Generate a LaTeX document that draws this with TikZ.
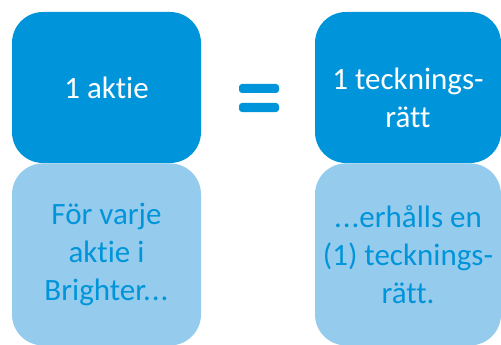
\documentclass[tikz,border=0pt]{standalone}
\usepackage{fontspec}
\setmainfont{Carlito}[RawFeature={-liga;-clig}]
\usetikzlibrary{positioning}
\definecolor{darkblue}{RGB}{0,149,218}
\definecolor{lightblue}{RGB}{149,203,236}

\begin{document}
\begin{tikzpicture}[x=1pt,y=-1pt,node distance=0pt]
                \tikzstyle{box}= [rounded corners=31pt, inner sep=0pt, align=center, font=\fontsize{31}{38}\selectfont]
                \tikzstyle{topbox}= [box, fill=darkblue, text=white, minimum height=151pt]
                \tikzstyle{lowbox}= [box, fill=lightblue, text=darkblue, minimum height=182pt]
                \tikzstyle{bar}= [fill=darkblue, rounded corners=3pt, minimum width=40pt, minimum height=9pt, inner sep=0pt]
                \useasboundingbox (0,0) rectangle (501,345);

                \node[topbox, minimum width=189pt] (aktie) at (106.5,87.5) {1 aktie};
                \node[lowbox, minimum width=189pt, below=of aktie] (varje) {För varje\\aktie i\\Brighter.\kern1pt.\kern1pt.};
		        \node[topbox, minimum width=186pt] (ratt) at (408,87.5) {\rule{0pt}{43pt}1 tecknings-\\rätt};
		        \node[lowbox, minimum width=186pt, below=of ratt] (erhalls) {.\kern1pt.\kern1pt.erhålls en\\(1) tecknings-\\rätt.};

		        % likhetstecken
		        \node[bar] (eqtop) at (259,88.5) {};
		        \node[bar] (eqbot) at (259,107.5) {};
\end{tikzpicture}
\end{document}
